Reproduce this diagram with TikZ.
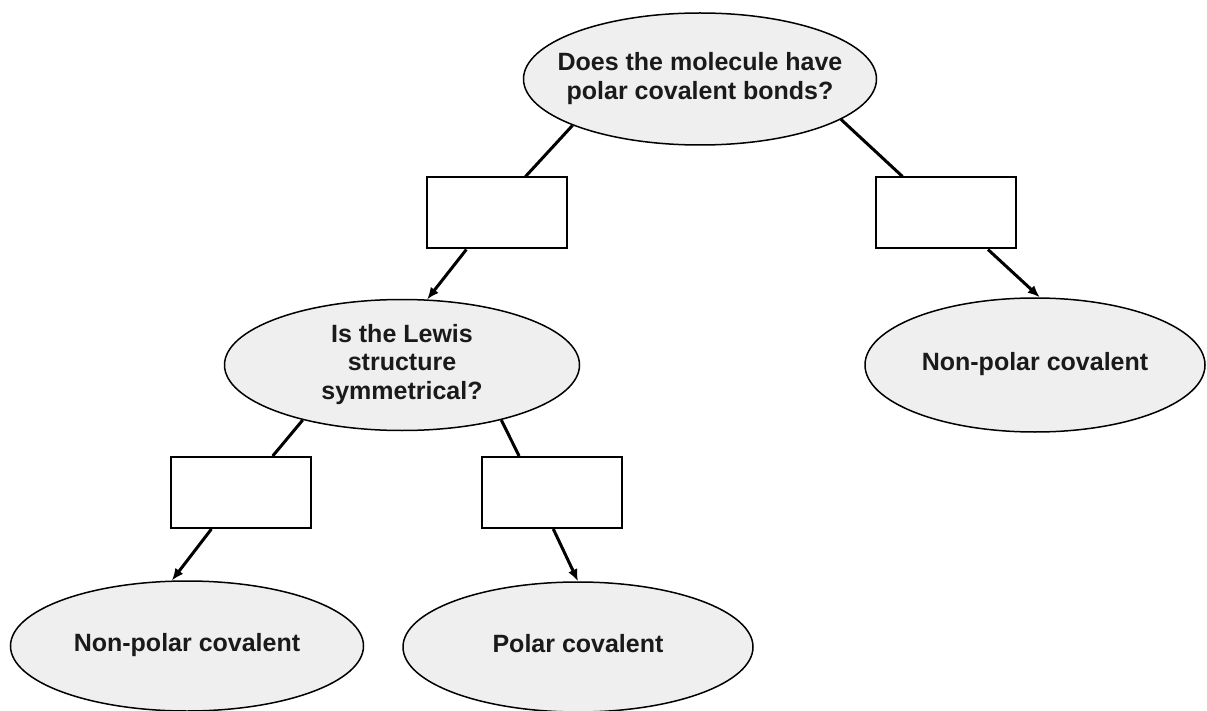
\documentclass[tikz,border=0pt]{standalone}
\usepackage{fontspec}
\setmainfont{Liberation Sans}
\usepackage{tikz}
\usetikzlibrary{arrows.meta,shapes.geometric}
\definecolor{ellfill}{RGB}{239,239,239}
\definecolor{inkgray}{RGB}{26,26,26}
% centred lines that do not widen the ellipse
\newcommand{\ctext}[1]{\makebox[0pt]{\begin{tabular}{@{}c@{}}#1\end{tabular}}}

\begin{document}
\begin{tikzpicture}[x=1pt,y=-1pt,>={Latex[length=12pt,width=10pt]},
  bubble/.style={ellipse,draw=black,line width=1.5pt,fill=ellfill,inner sep=0pt,
    text=inkgray,font=\bfseries\fontsize{25}{28.7}\selectfont},
  blank/.style={draw=black,line width=2pt,fill=white,minimum width=140pt,
    minimum height=71pt,inner sep=0pt},
  link/.style={line width=3pt}]
  % Frame
  \useasboundingbox (0,0) rectangle (1207,711);
  % Questions
  \node[bubble,minimum width=353pt,minimum height=132pt] (polar) at (700,79)
    {\ctext{Does the molecule have\\polar covalent bonds?}};
  \node[bubble,minimum width=355pt,minimum height=131pt] (lewis) at (402,365)
    {\ctext{Is the Lewis\\structure\\symmetrical?}};
  % Outcomes
  \node[bubble,minimum width=340pt,minimum height=134pt] (nonpolA) at (1035,365)
    {\ctext{Non-polar covalent}};
  \node[bubble,minimum width=353pt,minimum height=130pt] (nonpolB) at (187,646)
    {\ctext{Non-polar covalent}};
  \node[bubble,minimum width=350pt,minimum height=130pt] (polcov) at (578,647)
    {\ctext{Polar covalent}};
  % Empty answer boxes
  \node[blank] (yesA) at (497,213) {};
  \node[blank] (noA) at (946,213) {};
  \node[blank] (yesB) at (241,492.5) {};
  \node[blank] (noB) at (552,492.5) {};
  % Connectors
  \draw[link] (polar.200) -- (yesA.52);
  \draw[link,->] (yesA.230) -- (lewis.69);
  \draw[link] (polar.344) -- (noA.140);
  \draw[link,->] (noA.319) -- (nonpolA.86);
  \draw[link] (lewis.209) -- (yesB.49);
  \draw[link,->] (yesB.231) -- (nonpolB.103);
  \draw[link] (lewis.331) -- (noB.132);
  \draw[link,->] (noB.272) -- (polcov.north);
\end{tikzpicture}
\end{document}
